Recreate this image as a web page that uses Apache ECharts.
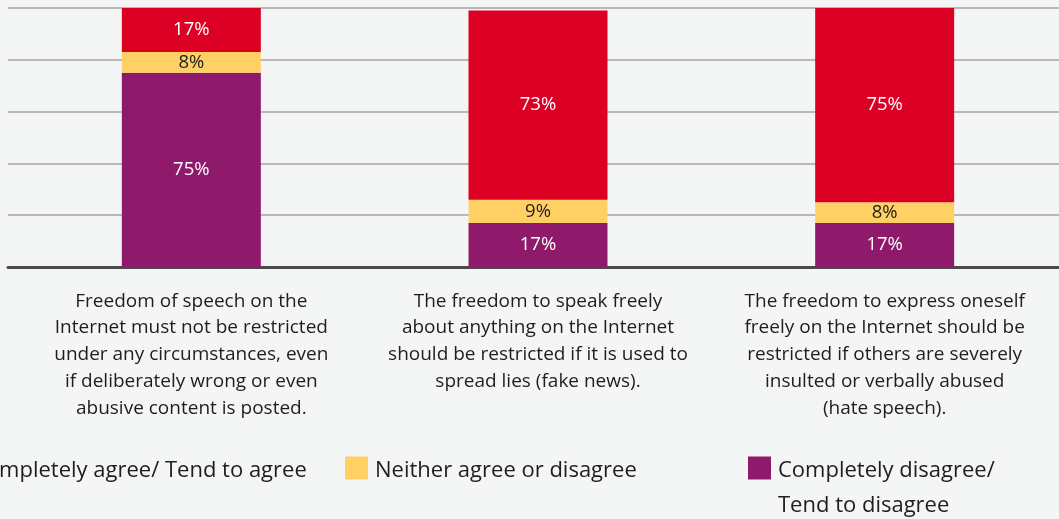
<!DOCTYPE html>
<html><head><meta charset="utf-8">
<script src="https://cdn.jsdelivr.net/npm/echarts@6/dist/echarts.min.js"></script>
<style>html,body{margin:0;padding:0;background:#f4f5f5}#c{width:1059px;height:519px}</style>
</head><body><div id="c"></div>
<script>
const categories = [
  "Freedom of speech on the\nInternet must not be restricted\nunder any circumstances, even\nif deliberately wrong or even\nabusive content is posted.",
  "The freedom to speak freely\nabout anything on the Internet\nshould be restricted if it is used to\nspread lies (fake news).",
  "The freedom to express oneself\nfreely on the Internet should be\nrestricted if others are severely\ninsulted or verbally abused\n(hate speech)."
];
const seriesNames = ["Completely agree/ Tend to agree", "Neither agree or disagree", "Completely disagree/ Tend to disagree"];
const agree = [17, 73, 75];
const neither = [8, 9, 8];
const disagree = [75, 17, 17];
const yTicks = [0, 20, 40, 60, 80, 100];

const FONT = "Open Sans";
const chart = echarts.init(document.getElementById('c'), null, {renderer: 'canvas'});
const lbl = (color) => ({show: true, position: 'inside', color: color, fontFamily: FONT, fontSize: 18.5, formatter: '{c}%'});
const legendText = {
  fontFamily: FONT, fontSize: 22, color: '#1e1e1e', padding: [0, 0, 0, 2],
  rich: {t: {fontFamily: FONT, fontSize: 22, color: '#1e1e1e', lineHeight: 35, padding: [6, 0, 0, 0]}}
};
const wrapRich = (s) => s.split('\n').map(l => '{t|' + l + '}').join('\n');
chart.setOption({
  backgroundColor: '#f4f5f5',
  animation: false,
  grid: [
    {left: 8, right: 0, top: 8, bottom: 252},
    {left: 18, right: 1, top: 8, bottom: 252}
  ],
  xAxis: [
    {gridIndex: 0, type: 'value', min: 0, max: 1, show: true, axisLabel: {show: false}, axisTick: {show: false}, splitLine: {show: false},
     axisLine: {show: true, onZero: false, lineStyle: {color: '#4a4a4a', width: 3}}},
    {gridIndex: 1, type: 'category', data: categories, axisLine: {show: false}, axisTick: {show: false},
     axisLabel: {margin: 21, color: '#1e1e1e', fontFamily: FONT, fontSize: 19, lineHeight: 26.7, align: 'center', interval: 0}}
  ],
  yAxis: [
    {gridIndex: 0, type: 'value', min: yTicks[0], max: yTicks[yTicks.length-1], interval: 20, axisLabel: {show: false}, axisLine: {show: false}, axisTick: {show: false},
     splitLine: {show: true, lineStyle: {color: '#b9b9b9', width: 2}}},
    {gridIndex: 1, type: 'value', min: 0, max: 100, interval: 20, show: false, splitLine: {show: false}}
  ],
  legend: [
    {data: [seriesNames[0]], left: -63, top: 449, icon: 'rect', itemWidth: 23, itemHeight: 23, textStyle: legendText,
     formatter: (n) => wrapRich(n)},
    {data: [seriesNames[1]], left: 340, top: 449, icon: 'rect', itemWidth: 23, itemHeight: 23, textStyle: legendText,
     formatter: (n) => wrapRich(n)},
    {data: [seriesNames[2]], left: 743, top: 414, icon: 'rect', itemWidth: 23, itemHeight: 23, textStyle: legendText,
     formatter: (n) => '{t|}\n' + wrapRich(n.replace('/ ', '/\n'))}
  ],
  series: [
    {name: seriesNames[2], type: 'bar', stack: 's', xAxisIndex: 1, yAxisIndex: 1, data: disagree, barWidth: 139,
     itemStyle: {color: '#8f196b'}, label: lbl('#ffffff')},
    {name: seriesNames[1], type: 'bar', stack: 's', xAxisIndex: 1, yAxisIndex: 1, data: neither, barWidth: 139,
     itemStyle: {color: '#ffd164'}, label: lbl('#1e1e1e')},
    {name: seriesNames[0], type: 'bar', stack: 's', xAxisIndex: 1, yAxisIndex: 1, data: agree, barWidth: 139,
     itemStyle: {color: '#dc0024'}, label: lbl('#ffffff')}
  ]
});
</script></body></html>
